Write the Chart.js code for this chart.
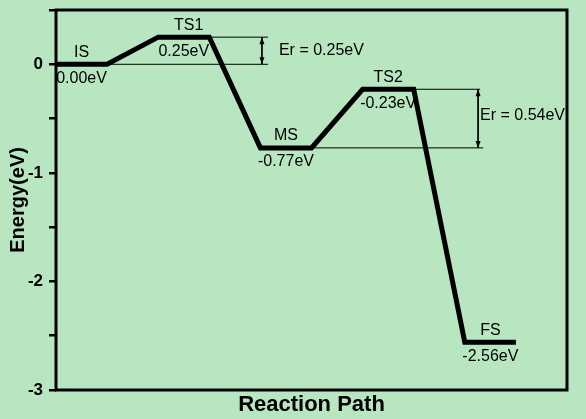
<!DOCTYPE html>
<html>
<head>
<meta charset="utf-8">
<script src="https://cdn.jsdelivr.net/npm/chart.js@4/dist/chart.umd.min.js"></script>
<style>
  html, body { margin: 0; padding: 0; background: #b7e6c1; }
  #wrap { width: 586px; height: 419px; }
</style>
</head>
<body>
<div id="wrap"><canvas id="c" width="586" height="419"></canvas></div>
<script>
// ---- data ----
const pathX = [0, 1, 2, 3, 4, 5, 6, 7, 8, 9];
const pathE = [0.00, 0.00, 0.25, 0.25, -0.77, -0.77, -0.23, -0.23, -2.56, -2.56];
const stateNames = ['IS', 'TS1', 'MS', 'TS2', 'FS'];
const stateE = [0.00, 0.25, -0.77, -0.23, -2.56];
const stateLabels = ['0.00eV', '0.25eV', '-0.77eV', '-0.23eV', '-2.56eV'];
const barrierLabels = ['Er = 0.25eV', 'Er = 0.54eV'];
const barrierLow = [0.00, -0.77];
const barrierHigh = [0.25, -0.23];
const barrierLowStart = [1, 5];
const barrierHighStart = [3, 7];
const yTickLabels = ['0', '-1', '-2', '-3'];
const xTitle = 'Reaction Path';
const yTitle = 'Energy(eV)';

const FONT = '"Liberation Sans", Arial, sans-serif';
const guideEndLow = [4.15, 8.36];
const guideEndHigh = [4.15, 8.30];
const arrowX = [4.03, 8.26];

const datasets = [];
datasets.push({
  data: pathX.map((x, i) => ({x: x, y: pathE[i]})),
  borderColor: '#000', borderWidth: 5, pointRadius: 0, tension: 0,
  borderJoinStyle: 'miter', borderCapStyle: 'butt', order: 0
});
for (let i = 0; i < barrierLabels.length; i++) {
  datasets.push({
    data: [{x: barrierLowStart[i], y: barrierLow[i]}, {x: guideEndLow[i], y: barrierLow[i]}],
    borderColor: '#000', borderWidth: 1, pointRadius: 0, order: 1
  });
  datasets.push({
    data: [{x: barrierHighStart[i], y: barrierHigh[i]}, {x: guideEndHigh[i], y: barrierHigh[i]}],
    borderColor: '#000', borderWidth: 1, pointRadius: 0, order: 1
  });
  datasets.push({
    data: [{x: arrowX[i], y: barrierHigh[i]}, {x: arrowX[i], y: barrierLow[i]}],
    borderColor: '#000', borderWidth: 1, pointRadius: 0, order: 1, isArrow: true
  });
}

const framePlugin = {
  id: 'frame',
  beforeDatasetsDraw(chart) {
    const {ctx, chartArea: a} = chart;
    ctx.save();
    ctx.strokeStyle = '#000';
    ctx.lineWidth = 3;
    ctx.strokeRect(a.left, a.top, a.right - a.left, a.bottom - a.top);
    ctx.restore();
  }
};

const annotatePlugin = {
  id: 'annotate',
  afterDatasetsDraw(chart) {
    const {ctx} = chart;
    const xs = chart.scales.x, ys = chart.scales.y;
    ctx.save();
    // arrowheads
    chart.data.datasets.forEach((ds, di) => {
      if (!ds.isArrow) return;
      const meta = chart.getDatasetMeta(di);
      const p0 = meta.data[0], p1 = meta.data[1];
      ctx.fillStyle = '#000';
      ctx.beginPath();
      ctx.moveTo(p0.x, p0.y);
      ctx.lineTo(p0.x - 2.5, p0.y + 7);
      ctx.lineTo(p0.x + 2.5, p0.y + 7);
      ctx.closePath();
      ctx.fill();
      ctx.beginPath();
      ctx.moveTo(p1.x, p1.y);
      ctx.lineTo(p1.x - 2.5, p1.y - 7);
      ctx.lineTo(p1.x + 2.5, p1.y - 7);
      ctx.closePath();
      ctx.fill();
    });
    // state labels
    ctx.fillStyle = '#000';
    ctx.font = '16px ' + FONT;
    ctx.textAlign = 'center';
    ctx.textBaseline = 'middle';
    stateNames.forEach((name, i) => {
      const cx = xs.getPixelForValue((pathX[2 * i] + pathX[2 * i + 1]) / 2);
      const py = ys.getPixelForValue(stateE[i]);
      ctx.fillText(name, cx + (i === 1 ? 5 : 0), py - 12);
      ctx.fillText(stateLabels[i], cx, py + 14);
    });
    // barrier labels
    ctx.textAlign = 'left';
    const dx = [17, 2];
    const dy = [0, -3];
    barrierLabels.forEach((t, i) => {
      const px = xs.getPixelForValue(arrowX[i]);
      const py = (ys.getPixelForValue(barrierLow[i]) + ys.getPixelForValue(barrierHigh[i])) / 2;
      ctx.fillText(t, px + dx[i], py + dy[i]);
    });
    ctx.restore();
  }
};

new Chart(document.getElementById('c'), {
  type: 'line',
  data: {datasets: datasets},
  plugins: [framePlugin, annotatePlugin],
  options: {
    responsive: false,
    animation: false,
    devicePixelRatio: 1,
    layout: {padding: {top: 10, right: 19, left: 0, bottom: 0}},
    plugins: {legend: {display: false}, tooltip: {enabled: false}},
    scales: {
      x: {
        type: 'linear', min: 0, max: 10,
        grid: {display: false},
        border: {display: false},
        ticks: {display: false},
        title: {
          display: true, text: xTitle, color: '#000',
          font: {family: FONT, size: 22, weight: 'bold'},
          padding: {top: 0, bottom: 1}
        },
        afterFit(s) { s.height = 29; s.paddingLeft = 0; s.paddingRight = 0; }
      },
      y: {
        type: 'linear', min: -3, max: 0.5,
        border: {display: false},
        grid: {drawOnChartArea: false, drawTicks: true, tickLength: 7, lineWidth: 2.5, color: '#000'},
        ticks: {
          stepSize: 0.5, padding: 6, color: '#000', autoSkip: false,
          font: {family: FONT, size: 17, weight: 'bold'},
          callback(v) {
            const s = String(Math.round(v));
            return Number.isInteger(v) && yTickLabels.includes(s) ? s : '';
          }
        },
        title: {
          display: true, text: yTitle, color: '#000',
          font: {family: FONT, size: 20, weight: 'bold'},
          padding: {top: 6, bottom: 0}
        },
        afterFit(s) { s.width = 56; s.paddingTop = 0; s.paddingBottom = 0; }
      }
    }
  }
});
</script>
</body>
</html>
